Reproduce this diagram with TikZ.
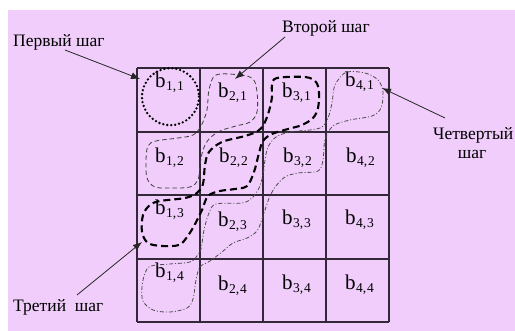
\documentclass[tikz,border=0pt]{standalone}
\usepackage{fontspec}
\setmainfont{Liberation Serif}
\usetikzlibrary{arrows.meta}
\definecolor{bgpink}{RGB}{240,205,250}
\definecolor{gridc}{RGB}{50,40,55}
\newcommand\mylbl[2]{{\fontsize{21}{22}\selectfont b}\kern0.4pt\raisebox{-2.8pt}{\fontsize{13.5}{14}\selectfont #1,\kern0.8pt#2}}
\tikzset{
  cellline/.style={draw=gridc,line width=1.2pt},
  blabel/.style={anchor=base west,inner sep=0pt,text=black},
  steptext/.style={inner sep=0pt,font=\fontsize{17.5}{18}\selectfont,text=black},
  pointer/.style={draw=black!85,line width=0.8pt,-{Latex[length=9pt,width=7pt]}},
  stepone/.style={draw=black,line width=2.6pt,line cap=round,dash pattern=on 0pt off 4pt},
  steptwo/.style={draw=black!75,line width=0.8pt,dash pattern=on 4.5pt off 3pt},
  stepthree/.style={draw=black,line width=2.1pt,dash pattern=on 7pt off 4pt},
  stepfour/.style={draw=black!70,line width=0.8pt,dash pattern=on 4pt off 2pt on 1pt off 2pt},
}
\begin{document}
\begin{tikzpicture}[x=1pt,y=-1pt]
\useasboundingbox (0,0) rectangle (515,331);
\fill[white] (0,0) rectangle (515,331);
\fill[bgpink] (8,10) rectangle (515,331);
% grid
\foreach \x in {137,200,263,326,389} \draw[cellline] (\x,68) -- (\x,322);
\foreach \y in {68,132,195,259,322} \draw[cellline] (137,\y) -- (389,\y);
% labels
\node[blabel] (b11) at (155,88) {\mylbl{1}{1}};
\node[blabel] (b21) at (218,98) {\mylbl{2}{1}};
\node[blabel] (b31) at (282,98) {\mylbl{3}{1}};
\node[blabel] (b41) at (345,87) {\mylbl{4}{1}};
\node[blabel] (b12) at (155,163) {\mylbl{1}{2}};
\node[blabel] (b22) at (219,163) {\mylbl{2}{2}};
\node[blabel] (b32) at (283,163) {\mylbl{3}{2}};
\node[blabel] (b42) at (346,163) {\mylbl{4}{2}};
\node[blabel] (b13) at (155,215) {\mylbl{1}{3}};
\node[blabel] (b23) at (218,227) {\mylbl{2}{3}};
\node[blabel] (b33) at (282,225) {\mylbl{3}{3}};
\node[blabel] (b43) at (345,225) {\mylbl{4}{3}};
\node[blabel] (b14) at (155,278) {\mylbl{1}{4}};
\node[blabel] (b24) at (218,291) {\mylbl{2}{4}};
\node[blabel] (b34) at (282,290) {\mylbl{3}{4}};
\node[blabel] (b44) at (345,290) {\mylbl{4}{4}};
% step 1
\draw[stepone] (170.5,96.7) circle (28.5);
% step 2
\draw[steptwo] plot[smooth cycle,tension=0.55] coordinates {
 (216,75) (240,75) (253,79) (257,92) (257,112) (250,122) (236,126) (220,131)
 (209,139) (203,150) (200,165) (198,180) (190,187) (172,188) (155,187) (147,178)
 (146,160) (148,146) (156,141) (178,138) (193,135) (201,126) (207,110) (209,90)};
% step 3
\draw[stepthree] plot[smooth cycle,tension=0.55] coordinates {
 (277,78) (305,77) (316,82) (319,93) (318,108) (313,118) (302,125) (288,129)
 (272,134) (263,141) (259,153) (254,172) (247,186) (235,189) (220,191) (208,196)
 (202,210) (194,226) (187,237) (179,245) (162,246) (148,243) (142,232) (143,215)
 (150,205) (160,201) (185,198) (197,193) (203,184) (205,165) (209,152) (222,142)
 (245,136) (258,131) (264,124) (269,111) (272,97) (272,85)};
% step 4
\draw[stepfour] plot[smooth cycle,tension=0.55] coordinates {
 (338,80) (347,72) (365,73) (378,80) (383,92) (381,108) (372,116) (350,120)
 (333,126) (325,140) (323,160) (318,171) (298,173) (285,177) (276,186) (270,196)
 (266,207) (262,219) (257,231) (247,238) (233,243) (222,252) (210,261) (200,267)
 (196,280) (193,299) (187,308) (170,312) (153,310) (143,301) (142,287) (145,273)
 (151,266) (170,264) (190,262) (197,256) (201,249) (204,230) (209,213) (216,204)
 (242,203) (252,198) (259,188) (263,175) (265,160) (268,147) (276,137) (290,132)
 (310,130) (322,127) (328,118) (332,103) (334,88)};
% step texts
\node[steptext,anchor=base west] (t1) at (13,46.5) {Первый шаг};
\node[steptext,anchor=base west] (t2) at (282,33) {Второй шаг};
\node[steptext,anchor=base west] (t4a) at (433,140) {Четвертый};
\node[steptext,anchor=base] (t4b) at (472,159) {шаг};
\node[steptext,anchor=base west] (t3) at (13,311.5) {Третий\ \ шаг};
% arrows
\coordinate (s1) at (65,50);
\coordinate (e1) at (140,79);
\coordinate (s2) at (285,37);
\coordinate (e2) at (235,79);
\coordinate (s4) at (445,118);
\coordinate (e4) at (382,88);
\coordinate (s3) at (77,295);
\coordinate (e3) at (142,242);
\draw[pointer] (s1) -- (e1);
\draw[pointer] (s2) -- (e2);
\draw[pointer] (s4) -- (e4);
\draw[pointer] (s3) -- (e3);
\end{tikzpicture}
\end{document}
